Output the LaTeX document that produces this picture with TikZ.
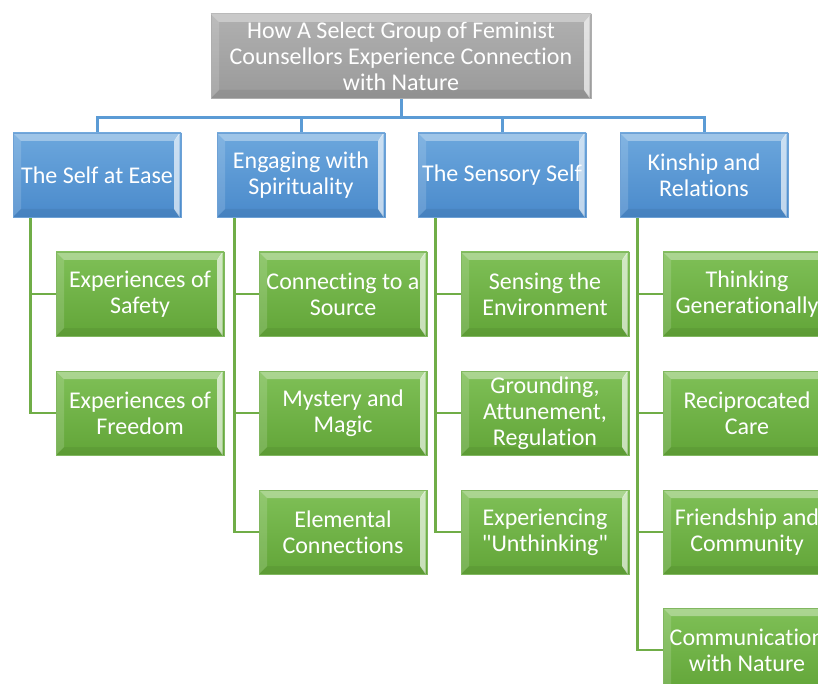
\documentclass[tikz,border=0pt]{standalone}
\usepackage{fontspec}
\setmainfont{Carlito}[Ligatures=NoCommon]
\usetikzlibrary{backgrounds}
\definecolor{bluetop}{HTML}{6CA7DD}
\definecolor{bluebot}{HTML}{4A8ACB}
\definecolor{greentop}{HTML}{7FC057}
\definecolor{greenbot}{HTML}{62A538}
\definecolor{greytop}{HTML}{B0B0B0}
\definecolor{greybot}{HTML}{9A9A9A}
\definecolor{blueline}{HTML}{5B9BD5}
\definecolor{greenline}{HTML}{70AD47}
\newcommand\sq{\XeTeXglyph\the\XeTeXcharglyph"22\relax}
\tikzset{
  bev/.style={rectangle, minimum width=168pt, minimum height=84pt, inner sep=0pt,
    text=white, align=center, font=\fontsize{24}{26}\selectfont,
    top color=#1top, bottom color=#1bot, draw=#1bot!80!white, line width=0.6pt,
    path picture={
      \fill[white,opacity=0.35] (path picture bounding box.north west) -- (path picture bounding box.north east)
        -- ([shift={(-7pt,-8pt)}]path picture bounding box.north east) -- ([shift={(8pt,-8pt)}]path picture bounding box.north west) -- cycle;
      \fill[white,opacity=0.15] (path picture bounding box.north west) -- (path picture bounding box.south west)
        -- ([shift={(8pt,8pt)}]path picture bounding box.south west) -- ([shift={(8pt,-8pt)}]path picture bounding box.north west) -- cycle;
      \fill[white,opacity=0.65] ([xshift=-1.5pt]path picture bounding box.north east) -- ([xshift=-1.5pt]path picture bounding box.south east)
        -- ([shift={(-7pt,8pt)}]path picture bounding box.south east) -- ([shift={(-7pt,-8pt)}]path picture bounding box.north east) -- cycle;
      \fill[black,opacity=0.06] (path picture bounding box.south west) -- (path picture bounding box.south east)
        -- ([shift={(-7pt,8pt)}]path picture bounding box.south east) -- ([shift={(8pt,8pt)}]path picture bounding box.south west) -- cycle;
    }},
  bline/.style={draw=blueline, line width=3pt},
  gline/.style={draw=greenline, line width=2.5pt}
}
\begin{document}
\begin{tikzpicture}[x=1pt,y=-1pt]
\useasboundingbox (0,0) rectangle (818,684);
\clip (0,0) rectangle (818,684);
% nodes
\node[bev=grey, minimum width=380pt] (title) at (401,56) {How A Select Group of Feminist\\Counsellors Experience Connection\\with Nature};
\fill[greytop!68!white] (title.north west) -- (title.north east) -- ([shift={(-7pt,-8pt)}]title.north east) -- ([shift={(8pt,-8pt)}]title.north west) -- cycle;
\node[bev=blue] (a) at (97,175) {The Self at Ease};
\node[bev=blue] (b) at (301,175) {Engaging with\\Spirituality};
\node[bev=blue] (c) at (502,175) {The Sensory Self};
\node[bev=blue] (d) at (704,175) {Kinship and\\Relations};
\node[bev=green] (a1) at (140,294) {Experiences of\\Safety};
\node[bev=green] (a2) at (140,413) {Experiences of\\Freedom};
\node[bev=green] (b1) at (343,294) {Connecting to a\\Source};
\node[bev=green] (b2) at (343,413) {Mystery and\\Magic};
\node[bev=green] (b3) at (343,532) {Elemental\\Connections};
\node[bev=green] (c1) at (545,294) {Sensing the\\Environment};
\node[bev=green] (c2) at (545,413) {Grounding,\\Attunement,\\Regulation};
\node[bev=green] (c3) at (545,532) {Experiencing\\\sq Unthinking\sq};
\node[bev=green] (d1) at (747,294) {Thinking\\Generationally};
\node[bev=green] (d2) at (747,413) {Reciprocated\\Care};
\node[bev=green] (d3) at (747,532) {Friendship and\\Community};
\node[bev=green] (d4) at (747,650) {Communication\\with Nature};
% connectors behind
\begin{pgfonlayer}{background}
\foreach \t in {a,b,c,d}{
  \draw[bline] (title.south) -- ++(0,19) -| (\t.north);
}
\foreach \p/\k in {a/a1,a/a2,b/b1,b/b2,b/b3,c/c1,c/c2,c/c3,d/d1,d/d2,d/d3,d/d4}{
  \draw[gline] ([xshift=18pt]\p.south west) |- (\k.west);
}
\end{pgfonlayer}
\end{tikzpicture}
\end{document}
